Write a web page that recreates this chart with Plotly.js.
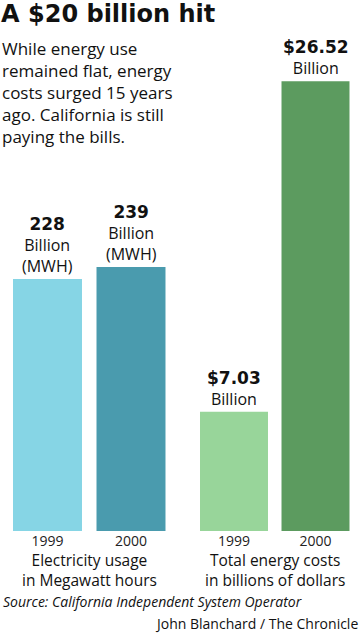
<!DOCTYPE html>
<html>
<head>
<meta charset="utf-8">
<script src="https://cdn.plot.ly/plotly-3.0.1.min.js"></script>
<style>html,body{margin:0;padding:0;background:#fff;}#chart{width:360px;height:634px;}</style>
</head>
<body>
<div id="chart"></div>
<script>
// ---- data ----
const years = ["1999", "2000"];
const usageValues = [228, 239];          // billion MWH
const costValues = [7.03, 26.52];        // billion dollars
const usageLabels = ["228", "239"];
const costLabels = ["$7.03", "$26.52"];
const usageUnit = "Billion<br>(MWH)";
const costUnit = "Billion";
const usageColors = ["#86D5E5", "#4A9BAE"];
const costColors = ["#98D59A", "#5C9B5F"];
const titleText = "A $20 billion hit";
const subtitleText = "While energy use<br>remained flat, energy<br>costs surged 15 years<br>ago. California is still<br>paying the bills.";
const usageAxisTitle = "Electricity usage<br>in Megawatt hours";
const costAxisTitle = "Total energy costs<br>in billions of dollars";
const sourceText = "Source: California Independent System Operator";
const creditText = "John Blanchard / The Chronicle";

const W = 360, H = 634, TOP = 61, BOTTOM = 531;
const py = p => (BOTTOM - p) / (BOTTOM - TOP);
const px = p => p / W;

const numStyle = "font-family:DejaVu Sans;font-weight:bold;font-size:17px";

const traces = [
  {type: "bar", x: years, y: usageValues, xaxis: "x", yaxis: "y",
   marker: {color: usageColors}, width: 0.826, hoverinfo: "none"},
  {type: "bar", x: years, y: costValues, xaxis: "x2", yaxis: "y2",
   marker: {color: costColors}, width: 0.834, hoverinfo: "none"}
];

const annotations = [];
years.forEach((yr, i) => {
  annotations.push({xref: "x", yref: "y", x: i, y: usageValues[i], yanchor: "bottom",
    showarrow: false, yshift: 0,
    text: `<span style="${numStyle}">${usageLabels[i]}</span><br>${usageUnit}`,
    font: {family: "Open Sans", size: 16, color: "#111"}});
  annotations.push({xref: "x2", yref: "y2", x: i, y: costValues[i], yanchor: "bottom",
    showarrow: false, yshift: 0,
    text: `<span style="${numStyle}">${costLabels[i]}</span><br>${costUnit}`,
    font: {family: "Open Sans", size: 16, color: "#111"}});
});
annotations.push({xref: "paper", yref: "paper", x: 0, y: py(35), xanchor: "left", yanchor: "top",
  align: "left", showarrow: false, text: subtitleText,
  font: {family: "Open Sans", size: 17, color: "#111"}});
[[usageAxisTitle, 89.25], [costAxisTitle, 274.75]].forEach(([txt, cx]) => {
  annotations.push({xref: "paper", yref: "paper", x: px(cx), y: py(570),
    xanchor: "center", yanchor: "middle", borderpad: 0,
    showarrow: false, text: txt, font: {family: "Open Sans", size: 15.5, color: "#111"}});
});
annotations.push({xref: "paper", yref: "paper", x: px(1), y: py(601), xanchor: "left", yanchor: "middle",
  showarrow: false, text: "<i>" + sourceText + "</i>", font: {family: "Open Sans", size: 14, color: "#111"}});
annotations.push({xref: "paper", yref: "paper", x: px(359), y: py(634), xanchor: "right", yanchor: "bottom",
  borderpad: 0, showarrow: false, text: creditText, font: {family: "Open Sans", size: 14, color: "#111"}});

const xCommon = {type: "category", showgrid: false, zeroline: false, showline: false, ticks: "",
  tickfont: {family: "Open Sans", size: 14, color: "#222"}, fixedrange: true};
const yCommon = {showgrid: false, zeroline: false, showline: false, showticklabels: false, ticks: "", fixedrange: true};

const layout = {
  width: W, height: H,
  margin: {l: 0, r: 0, t: TOP, b: H - BOTTOM, pad: 0},
  paper_bgcolor: "#fff", plot_bgcolor: "#fff",
  showlegend: false,
  title: {text: "<b>" + titleText + "</b>", xref: "container", yref: "container",
    x: 0.003, xanchor: "left", y: 1 - 14 / H, yanchor: "middle",
    font: {family: "DejaVu Sans", size: 24, color: "#111"}},
  xaxis: Object.assign({}, xCommon, {domain: [5.75 / W, 172.75 / W], range: [-0.5, 1.5], anchor: "y"}),
  xaxis2: Object.assign({}, xCommon, {domain: [193.25 / W, 356.25 / W], range: [-0.5, 1.5], anchor: "y2"}),
  yaxis: Object.assign({}, yCommon, {domain: [0, 1], range: [0, (BOTTOM - TOP) / 1.105], anchor: "x"}),
  yaxis2: Object.assign({}, yCommon, {domain: [0, 1], range: [0, (BOTTOM - TOP) / 16.96], anchor: "x2"}),
  annotations: annotations
};

Plotly.newPlot("chart", traces, layout, {displayModeBar: false, staticPlot: true});
</script>
</body>
</html>
